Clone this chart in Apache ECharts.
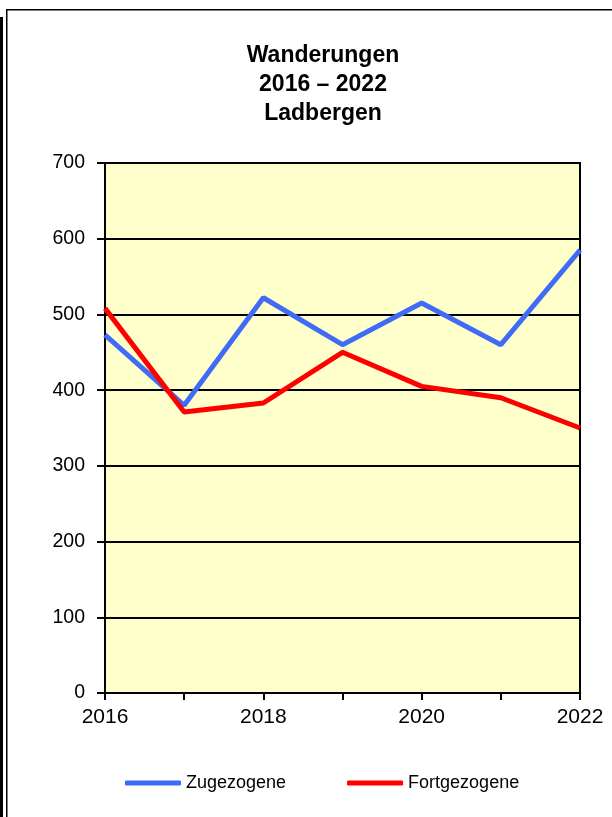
<!DOCTYPE html>
<html><head><meta charset="utf-8">
<script src="https://cdn.jsdelivr.net/npm/echarts@6/dist/echarts.min.js"></script>
<style>html,body{margin:0;padding:0;background:#fff}#c{width:612px;height:817px}</style>
</head><body><div id="c"></div>
<script>
const years = ['2016','2017','2018','2019','2020','2021','2022'];
const zugezogene = [473, 380, 522, 460, 515, 460, 585];
const fortgezogene = [508, 371, 383, 450, 405, 390, 350];
const titleLines = ['Wanderungen', '2016 – 2022', 'Ladbergen'];
const seriesNames = ['Zugezogene', 'Fortgezogene'];

const chart = echarts.init(document.getElementById('c'), null, {renderer: 'canvas'});
const font = '"Liberation Sans", Arial, sans-serif';
chart.setOption({
  animation: false,
  backgroundColor: '#fff',
  title: {
    text: titleLines.join('\n'),
    left: 318, top: 36, textAlign: 'center',
    textStyle: {fontFamily: font, fontWeight: 'bold', fontSize: 23, lineHeight: 29, color: '#000'}
  },
  grid: {left: 105, right: 32, top: 163, bottom: 124, show: true,
    backgroundColor: '#FFFFCC', borderColor: '#000', borderWidth: 2},
  xAxis: {
    type: 'category', data: years, boundaryGap: false,
    axisLine: {lineStyle: {color: '#000', width: 2}},
    axisTick: {show: true, interval: 0, length: 7, lineStyle: {color: '#000', width: 2}},
    axisLabel: {interval: 1, fontFamily: font, fontSize: 21, color: '#000', margin: 14},
    splitLine: {show: false}
  },
  yAxis: {
    type: 'value', min: 0, max: 700, interval: 100,
    axisLine: {show: true, lineStyle: {color: '#000', width: 2}},
    axisTick: {show: true, length: 8, lineStyle: {color: '#000', width: 2}},
    axisLabel: {fontFamily: font, fontSize: 19.5, color: '#000', margin: 20},
    splitLine: {show: true, lineStyle: {color: '#000', width: 2}}
  },
  legend: {
    left: 125, top: 774, padding: 0, itemWidth: 56, itemHeight: 5, itemGap: 61,
    icon: 'roundRect',
    textStyle: {fontFamily: font, fontSize: 18, color: '#000'},
    data: seriesNames
  },
  series: [
    {name: seriesNames[0], type: 'line', data: zugezogene, symbol: 'none',
      lineStyle: {color: '#3F6BF5', width: 5}, itemStyle: {color: '#3F6BF5'}},
    {name: seriesNames[1], type: 'line', data: fortgezogene, symbol: 'none',
      lineStyle: {color: '#FF0000', width: 5}, itemStyle: {color: '#FF0000'}}
  ],
  graphic: [
    {type: 'rect', shape: {x: 0, y: 17, width: 3, height: 800}, style: {fill: '#000'}, silent: true},
    {type: 'rect', shape: {x: 6, y: 9, width: 1.5, height: 808}, style: {fill: '#000'}, silent: true},
    {type: 'rect', shape: {x: 6, y: 9, width: 606, height: 1.5}, style: {fill: '#000'}, silent: true}
  ]
});
</script></body></html>
